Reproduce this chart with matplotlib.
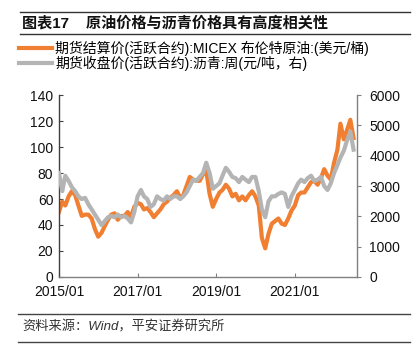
import matplotlib
matplotlib.use("Agg")
import matplotlib.pyplot as plt
import matplotlib.dates as mdates
import pandas as pd

# ---------------- data (monthly) ----------------
start_month = "2015-01-01"

# Brent (USD/bbl, left axis)
brent = [
    50, 58, 55, 62, 66, 63, 55, 47, 48, 48, 45, 37,        # 2015
    31, 34, 39, 44, 48, 49, 44, 47, 47, 50, 46, 54,        # 2016
    57, 56, 52, 53, 50, 46, 49, 52, 56, 58, 61, 63,        # 2017
    66, 61, 63, 70, 77, 75, 74, 74, 79, 82, 64, 54,        # 2018
    60, 65, 67, 71, 68, 62, 64, 59, 62, 59, 63, 66,        # 2019
    62, 55, 30, 22, 33, 41, 43, 45, 41, 40, 45, 51,        # 2020
    55, 63, 65, 65, 69, 73, 74, 71, 76, 83, 78, 75,        # 2021
    88, 98, 118, 106, 113, 121, 107,                       # 2022
]

# asphalt futures (CNY/t, right axis)
asphalt = [
    3430, 2830, 3340, 3170, 2960, 2830, 2660, 2570, 2610, 2400, 2230, 2060,
    1890, 1710, 1840, 1970, 2010, 1970, 2060, 1970, 2010, 1930, 1800, 2140,
    2660, 2870, 2660, 2570, 2310, 2400, 2660, 2570, 2520, 2660, 2570, 2660,
    2660, 2570, 2660, 2790, 3000, 3210, 3170, 3300, 3430, 3770, 3430, 2910,
    3000, 3090, 3340, 3600, 3470, 3300, 3260, 3130, 3300, 3210, 3130, 3300,
    3300, 2830, 2230, 1970, 2490, 2660, 2660, 2740, 2790, 2740, 2310, 2660,
    2870, 3090, 3210, 3130, 3260, 3340, 3170, 3210, 3300, 3000, 2870, 3090,
    3430, 3690, 3940, 4160, 4500, 4800, 4200,
]

dates = pd.date_range(start_month, periods=len(brent), freq="MS")

left_ticks = [0, 20, 40, 60, 80, 100, 120, 140]
right_ticks = [0, 1000, 2000, 3000, 4000, 5000, 6000]
x_ticks = ["2015-01-01", "2017-01-01", "2019-01-01", "2021-01-01"]

label_brent = "期货结算价(活跃合约):MICEX 布伦特原油:(美元/桶)"
label_asphalt = "期货收盘价(活跃合约):沥青:周(元/吨，右)"
title = "图表17    原油价格与沥青价格具有高度相关性"
source = "资料来源：Wind，平安证券研究所"

# ---------------- style ----------------
ORANGE = "#F07F31"
GRAY = "#B4B4B4"
SPINE = "#808080"
TEXT = "#111111"
FONTS = ["Liberation Sans", "Noto Sans CJK SC", "DejaVu Sans"]

plt.rcParams["font.family"] = FONTS
plt.rcParams["axes.unicode_minus"] = False

fig = plt.figure(figsize=(4.15, 3.51), dpi=100)
ax = fig.add_axes([0.142, 0.211, 0.718, 0.518])
ax2 = ax.twinx()

l1, = ax.plot(dates, brent, color=ORANGE, lw=3.0, solid_joinstyle="round")
l2, = ax2.plot(dates, asphalt, color=GRAY, lw=3.0, solid_joinstyle="round")

ax.set_ylim(0, 140)
ax2.set_ylim(0, 6000)
ax.set_yticks(left_ticks)
ax2.set_yticks(right_ticks)
ax.set_xlim(pd.Timestamp("2015-01-01"), pd.Timestamp("2022-08-01"))
ax.set_xticks(pd.to_datetime(x_ticks))
ax.xaxis.set_major_formatter(mdates.DateFormatter("%Y/%m"))

for a in (ax, ax2):
    a.spines["top"].set_visible(False)
    for s in ("left", "right", "bottom"):
        a.spines[s].set_color(SPINE)
        a.spines[s].set_linewidth(1.0)
ax.spines["right"].set_visible(False)
ax2.spines["left"].set_visible(False)
ax2.spines["bottom"].set_visible(False)
ax.spines["left"].set_color("#404040")

ax.tick_params(axis="y", direction="in", length=3, color="#404040",
               labelsize=10, labelcolor=TEXT, pad=4)
ax.tick_params(axis="x", direction="in", length=3, color=SPINE,
               labelsize=10, labelcolor=TEXT, pad=6)
ax2.tick_params(axis="y", direction="out", length=3, color=SPINE,
                labelsize=10, labelcolor=TEXT, pad=6)

# ---------------- header / legend / footer ----------------
fig.add_artist(plt.Line2D([0.048, 0.988], [0.966, 0.966], color="#333333", lw=1.0))
fig.add_artist(plt.Line2D([0.048, 0.988], [0.903, 0.903], color="#333333", lw=1.0))
fig.text(0.053, 0.934, title, fontsize=10.9, fontweight="bold", color=TEXT,
         va="center", ha="left")

fig.legend([l1, l2], [label_brent, label_asphalt], loc="upper left",
           bbox_to_anchor=(0.045, 0.885), frameon=False, fontsize=10,
           handlelength=2.4, handletextpad=0.25, labelspacing=0.0,
           borderaxespad=0.0, borderpad=0.0)

fig.add_artist(plt.Line2D([0.043, 0.988], [0.105, 0.105], color="#444444", lw=1.0))
fig.add_artist(plt.Line2D([0.043, 0.988], [0.026, 0.026], color="#444444", lw=1.0))
fig.text(0.053, 0.067, source, fontsize=9.5, style="italic", color="#333333",
         va="center", ha="left")

fig.savefig("out.png", dpi=100, facecolor="white")
